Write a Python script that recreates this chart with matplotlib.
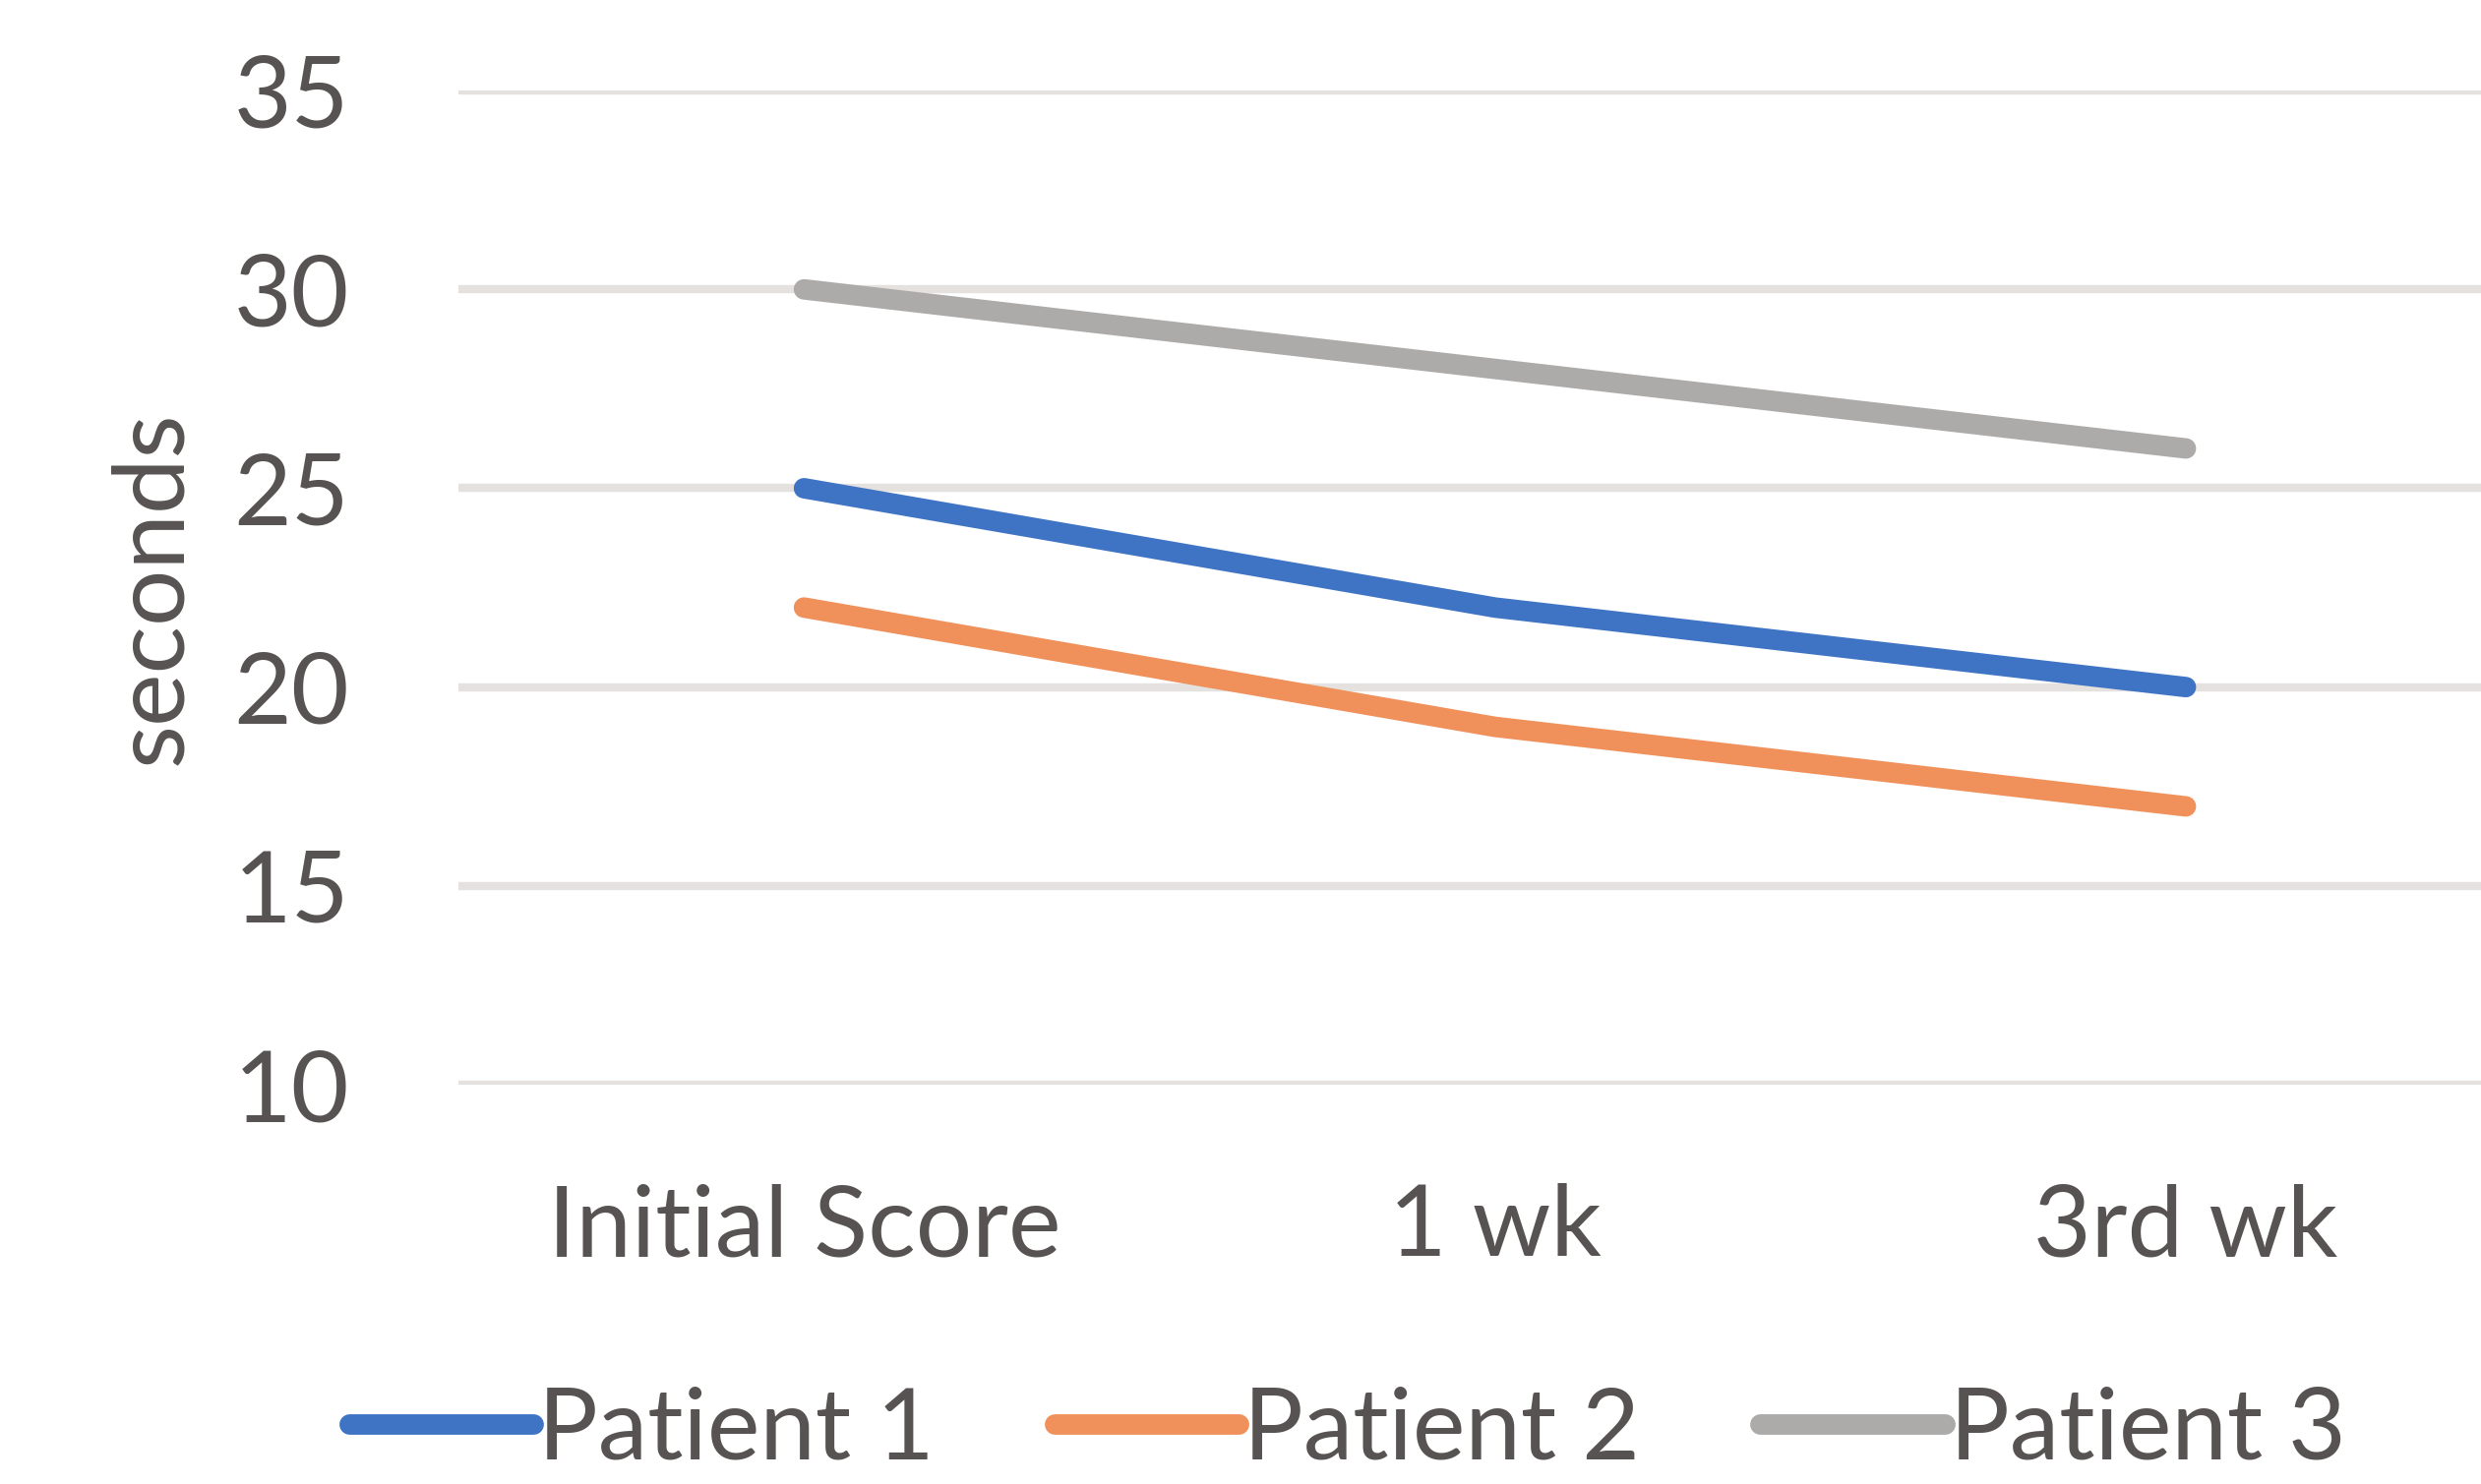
"""
Line chart of patient times over the weeks.
"""

import matplotlib
matplotlib.use("Agg")
import matplotlib.pyplot as plt

categories = ["Initial Score", "1 wk", "3rd wk"]
patient_1 = [25, 22, 20]
patient_2 = [22, 19, 17]
patient_3 = [30, 28, 26]
series_names = ["Patient 1", "Patient 2", "Patient 3"]
y_ticks = [10, 15, 20, 25, 30, 35]

colors = ["#3F74C5", "#F0905A", "#ADABA9"]
text_color = "#575352"

plt.rcParams["font.family"] = ["Lato", "DejaVu Sans"]

fig = plt.figure(figsize=(25.22, 15.09), dpi=100)
ax = fig.add_axes([0.1848, 0.269, 0.8355, 0.670])

x = range(len(categories))
for values, name, color in zip(
        [patient_1, patient_2, patient_3],
        series_names,
        colors):
    ax.plot(
        x,
        values,
        color=color,
        linewidth=15,
        solid_capstyle="round",
        solid_joinstyle="round",
        label=name
    )

ax.set_xlim(-0.5, 2.5)
ax.set_ylim(10, 35)
ax.set_yticks(y_ticks)
ax.set_xticks(list(x))
ax.set_xticklabels(categories)

ax.grid(axis="y", color="#E4E1DF", linewidth=6)
ax.set_axisbelow(True)
for spine in ax.spines.values():
    spine.set_visible(False)

ax.tick_params(axis="both", length=0, labelsize=73, colors=text_color)
ax.tick_params(axis="y", pad=80)
ax.tick_params(axis="x", pad=72)

ax.set_ylabel("seconds", fontsize=73, color=text_color, labelpad=26)

ax.legend(
    loc="center",
    bbox_to_anchor=(0.543, 0.036),
    bbox_transform=fig.transFigure,
    ncol=3,
    frameon=False,
    fontsize=73,
    labelcolor=text_color,
    handlelength=1.85,
    handletextpad=0.05,
    columnspacing=1.2,
    borderpad=0.1
)

fig.savefig("out.png", dpi=100)
